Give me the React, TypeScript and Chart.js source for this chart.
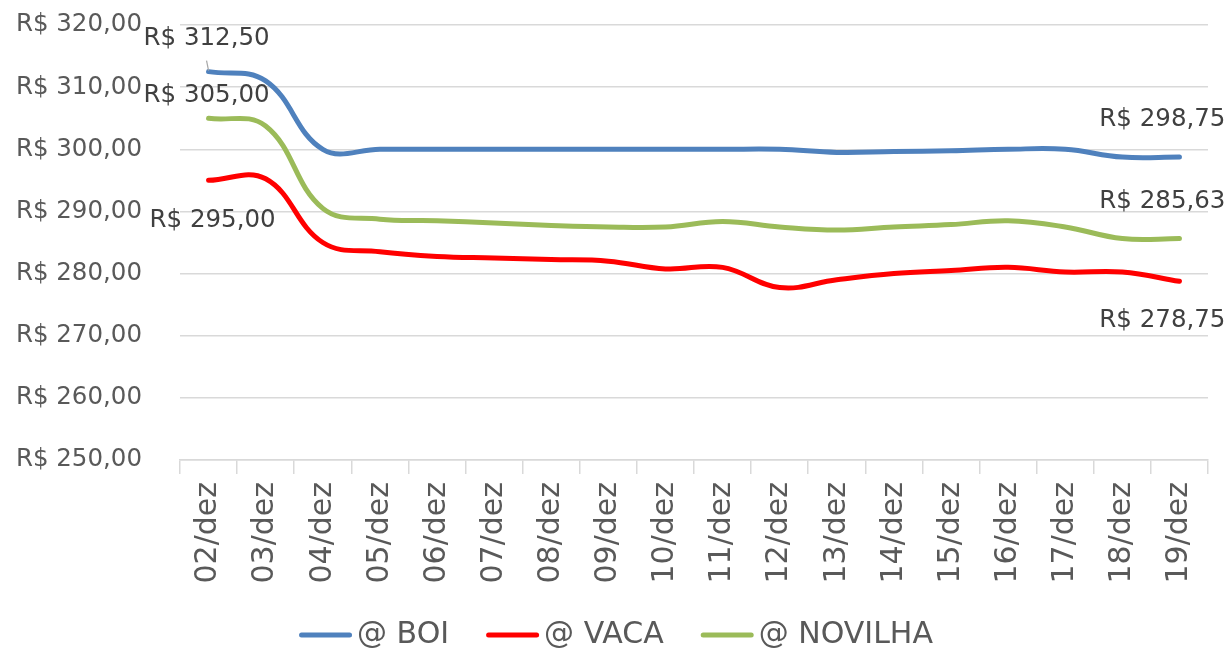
import React, { useEffect, useRef } from 'react';
import { Chart, registerables } from 'chart.js';

Chart.register(...registerables);

// ---- data ----
const categories = [
  '02/dez', '03/dez', '04/dez', '05/dez', '06/dez', '07/dez', '08/dez', '09/dez', '10/dez',
  '11/dez', '12/dez', '13/dez', '14/dez', '15/dez', '16/dez', '17/dez', '18/dez', '19/dez',
];
const boiValues = [312.5, 311, 300, 300, 300, 300, 300, 300, 300, 300, 300, 299.5, 299.63, 299.75, 300, 300, 298.75, 298.75];
const vacaValues = [295, 295.25, 285, 283.5, 282.75, 282.5, 282.25, 282, 280.75, 281, 277.75, 279, 280, 280.5, 281, 280.25, 280.25, 278.75];
const novilhaValues = [305, 303.75, 290.5, 288.75, 288.5, 288.13, 287.75, 287.5, 287.5, 288.38, 287.5, 287, 287.5, 287.88, 288.5, 287.5, 285.63, 285.63];
const seriesNames = ['@ BOI', '@ VACA', '@ NOVILHA'];
const seriesColors = ['#4F81BD', '#FF0000', '#9BBB59'];
const yMin = 250;
const yMax = 320;
const yStep = 10;

// ---- styling ----
const FONT = '"DejaVu Sans", sans-serif';
const TICK_COLOR = '#595959';
const LABEL_COLOR = '#404040';
const GRID_COLOR = '#d9d9d9';

const brl = (v: number) => 'R$ ' + v.toFixed(2).replace('.', ',');

// which points get a value label, and where the label sits relative to its point
const labelPlacements = [
  { ds: 0, first: true, dx: -2, dy: -33, align: 'center', leader: true },
  { ds: 2, first: true, dx: -2, dy: -23, align: 'center', leader: false },
  { ds: 1, first: true, dx: 4, dy: 40, align: 'center', leader: false },
  { ds: 0, first: false, dx: 46, dy: -37, align: 'right', leader: false },
  { ds: 2, first: false, dx: 46, dy: -37, align: 'right', leader: false },
  { ds: 1, first: false, dx: 46, dy: 39, align: 'right', leader: false },
];

const valueLabelPlugin = {
  id: 'valueLabels',
  afterDatasetsDraw(chart: any) {
    const ctx = chart.ctx;
    ctx.save();
    ctx.font = `24.5px ${FONT}`;
    ctx.fillStyle = LABEL_COLOR;
    ctx.textBaseline = 'middle';
    labelPlacements.forEach((p) => {
      const meta = chart.getDatasetMeta(p.ds);
      const data = chart.data.datasets[p.ds].data as number[];
      const idx = p.first ? 0 : data.length - 1;
      const pt = meta.data[idx];
      const tx = pt.x + p.dx;
      const ty = pt.y + p.dy;
      ctx.textAlign = p.align;
      ctx.fillText(brl(data[idx]), tx, ty);
      if (p.leader) {
        ctx.strokeStyle = '#a6a6a6';
        ctx.lineWidth = 1.2;
        ctx.beginPath();
        ctx.moveTo(pt.x - 2, ty + 22);
        ctx.lineTo(pt.x, pt.y - 1);
        ctx.stroke();
      }
    });
    ctx.restore();
  },
};

const legendPlugin = {
  id: 'customLegend',
  afterDraw(chart: any) {
    const ctx = chart.ctx;
    ctx.save();
    ctx.font = `30px ${FONT}`;
    const lineLen = 53;
    const gap = 5;
    const itemGap = 37;
    const widths = seriesNames.map((n) => ctx.measureText(n).width);
    const total = widths.reduce((a, w) => a + lineLen + gap + w, 0) + itemGap * (seriesNames.length - 1);
    let x = (chart.width - total) / 2;
    const y = 635;
    seriesNames.forEach((name, i) => {
      ctx.strokeStyle = seriesColors[i];
      ctx.lineWidth = 5;
      ctx.lineCap = 'round';
      ctx.beginPath();
      ctx.moveTo(x + 2.5, y);
      ctx.lineTo(x + lineLen - 2.5, y);
      ctx.stroke();
      ctx.fillStyle = TICK_COLOR;
      ctx.textAlign = 'left';
      ctx.textBaseline = 'middle';
      ctx.fillText(name, x + lineLen + gap, y);
      x += lineLen + gap + widths[i] + itemGap;
    });
    ctx.restore();
  },
};

export default function App() {
  const canvasRef = useRef<HTMLCanvasElement | null>(null);

  useEffect(() => {
    if (!canvasRef.current) return;
    const valuesList = [boiValues, vacaValues, novilhaValues];
    const chart = new Chart(canvasRef.current, {
      type: 'line',
      data: {
        labels: categories,
        datasets: valuesList.map((vals, i) => ({
          label: seriesNames[i],
          data: vals,
          borderColor: seriesColors[i],
          backgroundColor: seriesColors[i],
          borderWidth: 5,
          borderCapStyle: 'round',
          borderJoinStyle: 'round',
          pointRadius: 0,
          pointHoverRadius: 0,
          tension: 0.4,
          fill: false,
        })),
      },
      options: {
        animation: false,
        responsive: false,
        maintainAspectRatio: false,
        events: [],
        layout: { padding: { top: 25, right: 24, bottom: 51, left: 0 } },
        plugins: {
          legend: { display: false },
          tooltip: { enabled: false },
          title: { display: false },
        },
        scales: {
          x: {
            type: 'category',
            offset: true,
            grid: {
              offset: true,
              drawOnChartArea: false,
              drawTicks: true,
              tickLength: 14,
              color: GRID_COLOR,
              lineWidth: 1.5,
            },
            border: { display: true, color: GRID_COLOR, width: 1.5 },
            ticks: {
              autoSkip: false,
              minRotation: 90,
              maxRotation: 90,
              padding: 8,
              color: TICK_COLOR,
              font: { family: FONT, size: 30 },
            },
            afterFit(scale: any) {
              scale.height = 140;
              scale.paddingLeft = 0;
              scale.paddingRight = 0;
            },
          },
          y: {
            min: yMin,
            max: yMax,
            grid: { color: GRID_COLOR, lineWidth: 1.5, drawTicks: false },
            border: { display: false },
            ticks: {
              stepSize: yStep,
              padding: 38,
              color: TICK_COLOR,
              font: { family: FONT, size: 24.5 },
              callback: (v: any) => brl(Number(v)),
            },
            afterFit(scale: any) {
              scale.width = 180;
              scale.paddingTop = 0;
              scale.paddingBottom = 0;
            },
          },
        },
      },
      plugins: [valueLabelPlugin, legendPlugin],
    });
    return () => chart.destroy();
  }, []);

  return (
    <div style={{ position: 'fixed', left: 0, top: 0, width: 1232, height: 651, background: '#ffffff' }}>
      <canvas ref={canvasRef} width={1232} height={651} style={{ width: 1232, height: 651, display: 'block' }} />
    </div>
  );
}
